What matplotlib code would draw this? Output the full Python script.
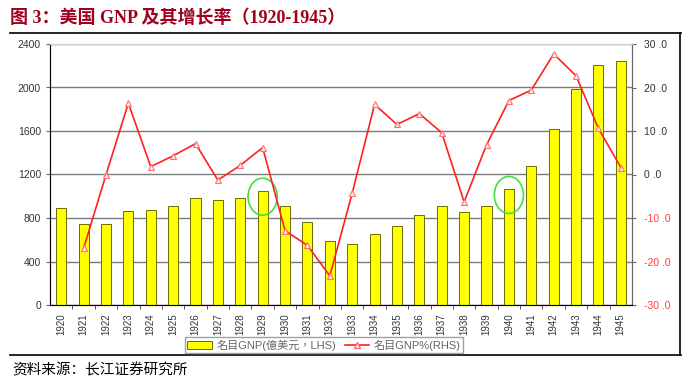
import numpy as np
import matplotlib
matplotlib.use('Agg')
import matplotlib.pyplot as plt
from matplotlib.patches import Ellipse, Patch
from matplotlib.lines import Line2D

plt.rcParams['font.family'] = ['Liberation Sans', 'Noto Sans CJK TC', 'DejaVu Sans']

years = [str(y) for y in range(1920, 1946)]
gnp = [888, 742, 742, 862, 877, 913, 984, 966, 984, 1051, 913, 763, 586, 561,
       650, 726, 828, 913, 852, 913, 1067, 1275, 1618, 1986, 2207, 2241]
growth = [np.nan, -17.0, -0.1, 16.4, 1.8, 4.3, 7.1, -1.3, 2.1, 6.2, -12.9, -16.3, -23.3,
          -4.3, 16.1, 11.5, 14.0, 9.6, -6.3, 6.8, 17.0, 19.4, 27.7, 22.7, 10.6, 1.6]
circled = ['1929', '1940']

left_ticks = [0, 400, 800, 1200, 1600, 2000, 2400]
right_ticks = [-30, -20, -10, 0, 10, 20, 30]

W, H = 689, 386
fig = plt.figure(figsize=(W / 100, H / 100), dpi=100)
ax = fig.add_axes([50 / W, 1 - 305 / H, 582 / W, 261 / H])
x = np.arange(len(years))

ax.set_axisbelow(True)
ax.yaxis.grid(True, color='#7a7a7a', lw=1)
ax.bar(x, gnp, width=0.45, color='#FFFF00', edgecolor='#6b6b00', linewidth=0.7,
       label='名目GNP(億美元，LHS)')
ax.set_xlim(-0.5, len(years) - 0.5)
ax.set_ylim(0, 2400)
ax.set_yticks(left_ticks)
ax.tick_params(axis='y', labelsize=7.5, colors='#333333', length=3, color='#666666')
ax.set_xticks(x)
ax.set_xticklabels(years, rotation=90, fontsize=7, color='#333333')
ax.set_xticks(x[:-1] + 0.5, minor=True)
ax.tick_params(axis='x', which='major', length=0, pad=6)
ax.tick_params(axis='x', which='minor', length=3, color='#333333')
for s in ['left', 'bottom']:
    ax.spines[s].set_color('#666666')
ax.spines['top'].set_color('#d0d0d0')
ax.spines['right'].set_color('#666666')

for yr in circled:
    i = years.index(yr)
    ax.add_patch(Ellipse((i, gnp[i] - 55), 1.3, 340, fill=False,
                         edgecolor='#44DD44', lw=1.2, zorder=5))

ax2 = ax.twinx()
ax2.plot(x, growth, color='#FF2020', lw=1.2, marker='^', markersize=4,
         markerfacecolor='#FFE8E8', markeredgecolor='#FF7070', markeredgewidth=0.8,
         label='名目GNP%(RHS)')
ax2.set_ylim(-30, 30)
ax2.set_yticks(right_ticks)
ax2.set_yticklabels([f'{v} .0' for v in right_ticks], fontsize=7.5)
for lab, v in zip(ax2.get_yticklabels(), right_ticks):
    lab.set_color('#FF4040' if v < 0 else '#333333')
ax2.tick_params(axis='y', length=3, color='#666666', pad=6)
ax2.spines['right'].set_color('#666666')
ax2.spines['top'].set_color('#d0d0d0')

handles = [Patch(facecolor='#FFFF00', edgecolor='#6b6b00', lw=0.7),
           Line2D([], [], color='#FF2020', lw=1.2, marker='^', markersize=4,
                  markerfacecolor='#FFE8E8', markeredgecolor='#FF7070')]
leg = fig.legend(handles, ['名目GNP(億美元，LHS)', '名目GNP%(RHS)'], loc='center',
                 bbox_to_anchor=(324 / W, 1 - 345 / H), ncol=2, fontsize=8,
                 frameon=True, fancybox=False, edgecolor='#888888', borderpad=0.2,
                 handlelength=2.2, handletextpad=0.4, columnspacing=0.8)
leg.get_frame().set_linewidth(1)
for t in leg.get_texts():
    t.set_color('#666666')

fig.text(10 / W, 1 - 18 / H, '图 3：美国 GNP 及其增长率（1920-1945）',
         family=['Liberation Serif', 'Noto Sans CJK SC'], fontsize=13,
         fontweight='bold', color='#A0001E', va='center')
fig.add_artist(Line2D([10 / W, 681 / W], [1 - 33 / H] * 2, color='black', lw=1.2))
fig.add_artist(Line2D([680 / W, 680 / W], [1 - 33 / H, 1 - 355 / H], color='black', lw=1.2))
fig.add_artist(Line2D([10 / W, 681 / W], [1 - 355 / H] * 2, color='black', lw=1.2))
fig.text(12 / W, 1 - 370 / H, '资料来源：长江证券研究所',
         family=['Noto Sans CJK SC'], fontsize=10.5, color='black', va='center')

fig.savefig('out.png', dpi=100)
